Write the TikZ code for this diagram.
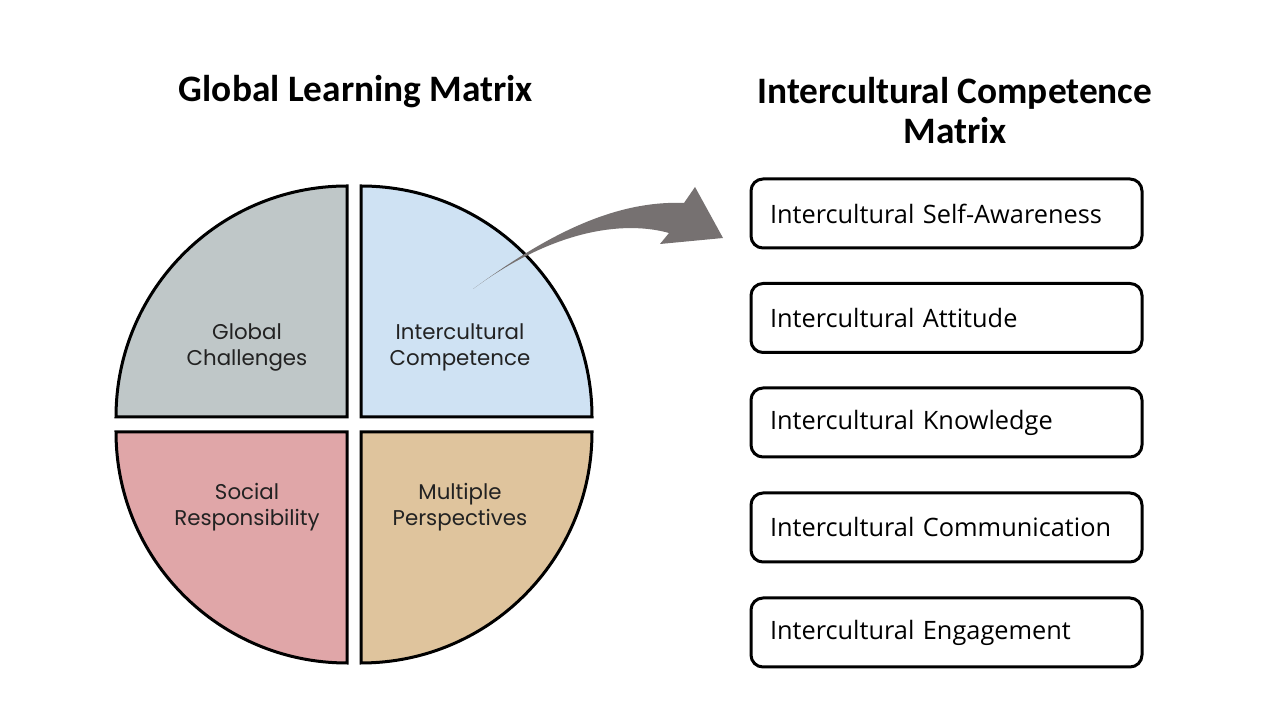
\documentclass[tikz,border=0pt]{standalone}
\usepackage{fontspec}
\setmainfont{Open Sans}
\newfontfamily\titlefont{Carlito}
\newfontfamily\quadfont{Poppins}
\definecolor{qgray}{HTML}{BFC7C8}
\definecolor{qblue}{HTML}{CFE2F3}
\definecolor{qpink}{HTML}{E0A6A8}
\definecolor{qtan}{HTML}{DFC49D}
\definecolor{arrowgray}{HTML}{767171}
\definecolor{labeltext}{HTML}{222222}
\tikzset{
  quad/.style={draw=black, line width=2.25pt, line join=miter},
  quadlabel/.style={font=\quadfont\fontsize{16}{19.5}\selectfont, text=labeltext, align=center},
  titletext/.style={font=\titlefont\bfseries\fontsize{28}{30}\selectfont, align=center},
  itembox/.style={draw=black, line width=2.25pt, rounded corners=9pt, fill=white,
    minimum height=51.75pt, inner xsep=14.25pt, text width=264.75pt, align=left,
    font=\fontsize{19}{22}\selectfont}
}
\begin{document}
\begin{tikzpicture}[x=0.75pt,y=0.75pt]
\useasboundingbox (0,0) rectangle (1280,720);
\fill[white] (0,0) rectangle (1280,720);
% quadrants
\draw[quad, fill=qgray] (347,303) -- (116,303) arc (180:90:231) -- cycle;
\draw[quad, fill=qblue] (361,303) -- (592,303) arc (0:90:231) -- cycle;
\draw[quad, fill=qpink] (347,288) -- (116,288) arc (180:270:231) -- cycle;
\draw[quad, fill=qtan] (361,288) -- (592,288) arc (0:-90:231) -- cycle;
% quadrant labels
\node[quadlabel] (gc) at (247,373) {Global\\Challenges};
\node[quadlabel] (ic) at (460,373) {Intercultural\\Competence};
\node[quadlabel] (sr) at (247,213) {Social\\Responsibility};
\node[quadlabel] (mp) at (460,213) {Multiple\\Perspectives};
% titles
\node[titletext] (t1) at (356,628) {Global Learning Matrix};
\node[titletext] (t2) at (955,609) {Intercultural Competence\\Matrix};
% arrow
\fill[arrowgray] (473,431) .. controls (540,480) and (610,520) .. (684,517)
  -- (695,533) -- (723,482) -- (660,476) -- (669,487)
  .. controls (630,498) and (560,495) .. (473,431) -- cycle;
% boxes
\node[itembox] (b1) at (946.5,506.5) {Intercultural Self-Awareness};
\node[itembox] (b2) at (946.5,402) {Intercultural Attitude};
\node[itembox] (b3) at (946.5,297.5) {Intercultural Knowledge};
\node[itembox] (b4) at (946.5,192.5) {Intercultural Communication};
\node[itembox] (b5) at (946.5,87.5) {Intercultural Engagement};
\end{tikzpicture}
\end{document}
